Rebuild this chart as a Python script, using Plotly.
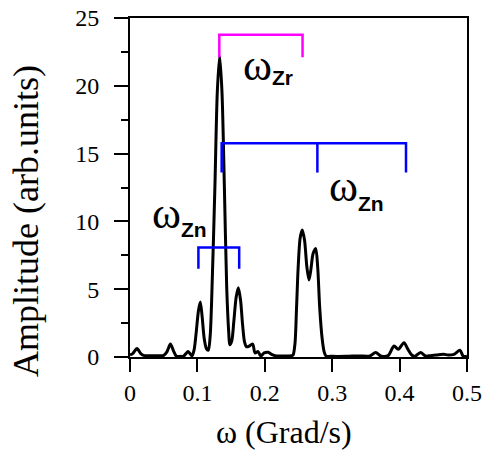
import plotly.graph_objects as go

# Spectrum
omega = [0.000, 0.004, 0.0104, 0.016, 0.020, 0.030, 0.040, 0.050, 0.055, 0.060, 0.065, 0.069,
         0.075, 0.079, 0.083, 0.086, 0.089, 0.092, 0.095, 0.098, 0.1015, 0.1043, 0.107, 0.110,
         0.1135, 0.1162, 0.119, 0.1217, 0.126, 0.1295, 0.133, 0.1365, 0.140, 0.1435, 0.1465,
         0.148, 0.151, 0.154, 0.1575, 0.1607, 0.164, 0.167, 0.170, 0.173, 0.176, 0.182,
         0.1855, 0.190, 0.194, 0.199, 0.205, 0.210, 0.215, 0.225, 0.235, 0.240, 0.242,
         0.2448, 0.247, 0.2495, 0.2525, 0.2557, 0.259, 0.2625, 0.2656, 0.2685, 0.2715,
         0.2755, 0.2785, 0.2815, 0.2850, 0.2880, 0.2908, 0.300, 0.320, 0.340, 0.356, 0.3645,
         0.372, 0.383, 0.3917, 0.398, 0.4065, 0.412, 0.418, 0.423, 0.431, 0.4387, 0.446, 0.455,
         0.465, 0.472, 0.4807, 0.4896, 0.4945, 0.500]
amplitude = [0.15, 0.25, 0.62, 0.25, 0.12, 0.10, 0.10, 0.12, 0.40, 0.95, 0.40, 0.05,
             0.05, 0.05, 0.25, 0.40, 0.25, 0.08, 0.50, 1.70, 3.40, 4.05, 3.00, 1.40,
             0.60, 0.50, 1.60, 5.10, 12.60, 19.50, 22.20, 19.50, 12.60, 5.10, 1.80,
             0.90, 1.20, 2.60, 4.40, 5.10, 4.20, 2.40, 1.10, 0.75, 0.78, 0.95,
             0.30, 0.40, 0.08, 0.30, 0.35, 0.20, 0.10, 0.08, 0.08, 0.10, 0.15,
             1.00, 3.50, 6.60, 8.80, 9.37, 8.60, 6.60, 5.68, 6.50, 7.60,
             8.01, 6.60, 3.60, 1.40, 0.40, 0.08, 0.05, 0.05, 0.08, 0.08, 0.34,
             0.07, 0.10, 0.81, 0.57, 1.06, 0.60, 0.15, 0.05, 0.34, 0.07, 0.10, 0.15,
             0.20, 0.15, 0.20, 0.50, 0.05, 0.05]

# Bracket markers (frequency positions and heights)
zr_x = [0.1325, 0.1325, 0.256, 0.256]
zr_y = [22.1, 23.77, 23.77, 22.1]
zn_big_x = [0.136, 0.136, 0.4095, 0.4095, None, 0.278, 0.278]
zn_big_y = [13.6, 15.76, 15.76, 13.6, None, 15.76, 13.6]
zn_small_x = [0.1015, 0.1015, 0.162, 0.162]
zn_small_y = [6.5, 8.08, 8.08, 6.5]

fig = go.Figure()
fig.add_trace(go.Scatter(x=omega, y=amplitude, mode="lines",
                         line=dict(color="black", width=3, shape="spline", smoothing=0.8),
                         showlegend=False, hoverinfo="skip"))
fig.add_trace(go.Scatter(x=zr_x, y=zr_y, mode="lines", line=dict(color="#FF00FF", width=2.5),
                         showlegend=False))
fig.add_trace(go.Scatter(x=zn_big_x, y=zn_big_y, mode="lines", line=dict(color="#0000FF", width=2.5),
                         showlegend=False, connectgaps=False))
fig.add_trace(go.Scatter(x=zn_small_x, y=zn_small_y, mode="lines", line=dict(color="#0000FF", width=2.5),
                         showlegend=False))

serif = "Liberation Serif, Times New Roman, serif"
sym_font = dict(family=serif, size=44, color="black")
sub_font = dict(family="Liberation Sans, Arial", size=21, color="black")
labels = [
    # (symbol y, subscript left x, subscript y, subscript text)
    (21.5, 0.2080, 20.6, "Zr"),
    (12.6, 0.3360, 11.3, "Zn"),
    (10.6, 0.0731, 9.37, "Zn"),
]
for oy, sx, sy, st in labels:
    fig.add_annotation(x=sx, y=oy, text="ω", showarrow=False, font=sym_font,
                       xanchor="right", yanchor="middle", xshift=4)
    fig.add_annotation(x=sx, y=sy, text="<b>" + st + "</b>", showarrow=False, font=sub_font,
                       xanchor="left", yanchor="middle")

fig.update_layout(
    width=485, height=450,
    margin=dict(l=130, r=18, t=18, b=93, autoexpand=False),
    paper_bgcolor="white", plot_bgcolor="white",
    font=dict(family=serif, color="black"),
)
# axis titles placed as paper annotations
fig.add_annotation(xref="paper", yref="paper", x=(284 - 130) / 337, y=-(432 - 357) / 339,
                   text="ω (Grad/s)", showarrow=False, font=dict(family=serif, size=32),
                   xanchor="center", yanchor="middle")
fig.add_annotation(xref="paper", yref="paper", x=-(130 - 26) / 337, y=(357 - 221) / 339,
                   text="Amplitude (arb.units)", showarrow=False, textangle=-90,
                   font=dict(family=serif, size=36), xanchor="center", yanchor="middle")

fig.update_xaxes(range=[0, 0.5], dtick=0.1, tick0=0, ticks="outside", ticklen=13, tickwidth=2,
                 tickcolor="black", showline=True, linewidth=2, linecolor="black", mirror=True,
                 showgrid=False, zeroline=False, tickfont=dict(family=serif, size=24),
                 automargin=False, ticklabelstandoff=0)
fig.update_yaxes(range=[0, 25], dtick=5, tick0=0, ticks="outside", ticklen=14, tickwidth=2,
                 tickcolor="black", showline=True, linewidth=2, linecolor="black", mirror=True,
                 showgrid=False, zeroline=False, tickfont=dict(family=serif, size=24),
                 minor=dict(dtick=2.5, ticks="outside", ticklen=7, tickwidth=2, tickcolor="black"),
                 automargin=False, ticklabelstandoff=10)

fig.write_html("out.html")
